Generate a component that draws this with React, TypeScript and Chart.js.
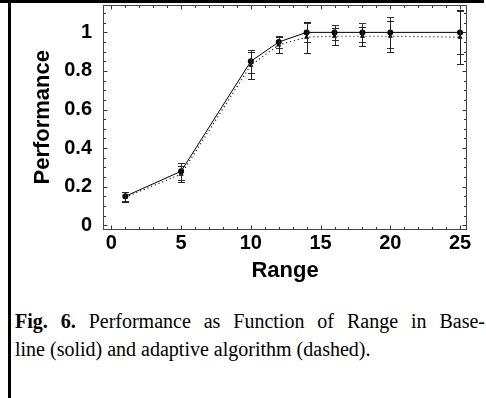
import React, { useEffect, useRef } from 'react';
import { Chart, registerables } from 'chart.js';

Chart.register(...registerables);

// ---- data ----
const rangeValues = [1, 5, 10, 12, 14, 16, 18, 20, 25];
const baselinePerf = [0.15, 0.28, 0.85, 0.95, 1.0, 1.0, 1.0, 1.0, 1.0];
const baselineErr = [0.025, 0.045, 0.06, 0.03, 0.05, 0.04, 0.05, 0.08, 0.11];
const adaptivePerf = [0.145, 0.265, 0.83, 0.935, 0.975, 0.98, 0.98, 0.98, 0.975];
const adaptiveErr = [0.025, 0.04, 0.07, 0.04, 0.08, 0.045, 0.05, 0.08, 0.14];

const xTickValues = [0, 5, 10, 15, 20, 25];
const xTickLabels = ['0', '5', '10', '15', '20', '25'];
const yTickValues = [0, 0.2, 0.4, 0.6, 0.8, 1];
const yTickLabels = ['0', '0.2', '0.4', '0.6', '0.8', '1'];
const xMinorTicks = [0,1,2,3,4,5,6,7,8,9,10,11,12,13,14,15,16,17,18,19,20,21,22,23,24,25];
const yMinorTicks = [0,0.05,0.1,0.15,0.2,0.25,0.3,0.35,0.4,0.45,0.5,0.55,0.6,0.65,0.7,0.75,0.8,0.85,0.9,0.95,1,1.05,1.1];

const SANS = '"Liberation Sans", Arial, sans-serif';
const SERIF = '"Liberation Serif", "Times New Roman", serif';

const framePlugin = {
  id: 'frameTicks',
  afterDatasetsDraw(chart: any) {
    const { ctx, chartArea: a, scales } = chart;
    const xs = scales.x;
    const ys = scales.y;
    const L = Math.round(a.left) + 0.5;
    const R = Math.round(a.right) - 0.5;
    const T = Math.round(a.top) + 0.5;
    const B = Math.round(a.bottom) - 0.5;
    ctx.save();
    ctx.strokeStyle = '#333';
    ctx.lineWidth = 1;
    ctx.beginPath();
    xMinorTicks.forEach((v) => {
      const px = Math.round(xs.getPixelForValue(v)) + 0.5;
      const len = v % 5 === 0 ? 4 : 2.5;
      ctx.moveTo(px, B);
      ctx.lineTo(px, B - len);
      ctx.moveTo(px, T);
      ctx.lineTo(px, T + len);
    });
    yMinorTicks.forEach((v, i) => {
      const py = Math.round(ys.getPixelForValue(v)) + 0.5;
      const len = i % 4 === 0 ? 4 : 2.5;
      ctx.moveTo(L, py);
      ctx.lineTo(L + len, py);
      ctx.moveTo(R, py);
      ctx.lineTo(R - len, py);
    });
    ctx.stroke();
    ctx.strokeStyle = '#444';
    ctx.strokeRect(L, T, R - L, B - T);
    ctx.restore();
  },
};

const errorBarPlugin = {
  id: 'errorBars',
  afterDatasetsDraw(chart: any) {
    const { ctx, scales } = chart;
    const xs = scales.x;
    const ys = scales.y;
    const sets = [
      { vals: baselinePerf, errs: baselineErr, color: '#333' },
      { vals: adaptivePerf, errs: adaptiveErr, color: '#222' },
    ];
    ctx.save();
    ctx.lineWidth = 1;
    sets.forEach((s) => {
      ctx.strokeStyle = s.color;
      ctx.beginPath();
      rangeValues.forEach((r, i) => {
        const px = Math.round(xs.getPixelForValue(r)) + 0.5;
        const top = Math.round(ys.getPixelForValue(s.vals[i] + s.errs[i])) + 0.5;
        const bot = Math.round(ys.getPixelForValue(s.vals[i] - s.errs[i])) + 0.5;
        ctx.moveTo(px, top);
        ctx.lineTo(px, bot);
        ctx.moveTo(px - 3.5, top);
        ctx.lineTo(px + 3.5, top);
        ctx.moveTo(px - 3.5, bot);
        ctx.lineTo(px + 3.5, bot);
      });
      ctx.stroke();
    });
    ctx.restore();
  },
};

export default function App() {
  const canvasRef = useRef<HTMLCanvasElement | null>(null);

  useEffect(() => {
    const canvas = canvasRef.current;
    if (!canvas) return;
    const chart = new Chart(canvas, {
      type: 'line',
      data: {
        datasets: [
          {
            label: 'Baseline',
            data: rangeValues.map((x, i) => ({ x, y: baselinePerf[i] })),
            borderColor: '#000',
            backgroundColor: '#000',
            borderWidth: 1,
            pointStyle: 'circle',
            pointRadius: 3,
            pointBorderWidth: 0,
            tension: 0,
          },
          {
            label: 'Adaptive',
            data: rangeValues.map((x, i) => ({ x, y: adaptivePerf[i] })),
            borderColor: '#000',
            backgroundColor: '#000',
            borderWidth: 1.2,
            borderDash: [1, 3],
            pointStyle: 'triangle',
            pointRadius: 3,
            pointBorderWidth: 0,
            tension: 0,
          },
        ],
      },
      options: {
        responsive: false,
        animation: false,
        events: [],
        layout: { padding: { left: 0, top: 5, right: 19, bottom: 0 } },
        plugins: {
          legend: { display: false },
          tooltip: { enabled: false },
          title: { display: false },
        },
        scales: {
          x: {
            type: 'linear',
            min: -0.6,
            max: 25.5,
            grid: { display: false, drawTicks: false },
            border: { display: false },
            afterBuildTicks: (scale: any) => {
              scale.ticks = xTickValues.map((v) => ({ value: v }));
            },
            afterFit: (scale: any) => {
              scale.height = 70.5;
              scale.paddingLeft = 0;
              scale.paddingRight = 0;
            },
            ticks: {
              padding: 2,
              color: '#000',
              maxRotation: 0,
              autoSkip: false,
              font: { family: SANS, size: 20, weight: 'bold' },
              callback: (_v: any, i: number) => xTickLabels[i],
            },
            title: {
              display: true,
              text: 'Range',
              color: '#000',
              font: { family: SANS, size: 22, weight: 'bold' },
              padding: { top: 0, bottom: 16 },
            },
          },
          y: {
            type: 'linear',
            min: -0.022,
            max: 1.142,
            grid: { display: false, drawTicks: false },
            border: { display: false },
            afterBuildTicks: (scale: any) => {
              scale.ticks = yTickValues.map((v) => ({ value: v }));
            },
            afterFit: (scale: any) => {
              scale.width = 103;
              scale.paddingTop = 0;
              scale.paddingBottom = 0;
            },
            ticks: {
              padding: 11,
              color: '#000',
              autoSkip: false,
              font: { family: SANS, size: 20, weight: 'bold' },
              callback: (_v: any, i: number) => yTickLabels[i],
            },
            title: {
              display: true,
              text: 'Performance',
              color: '#000',
              font: { family: SANS, size: 22, weight: 'bold' },
              padding: { top: 30, bottom: 0 },
            },
          },
        },
      },
      plugins: [errorBarPlugin, framePlugin],
    } as any);
    return () => chart.destroy();
  }, []);

  return (
    <div
      style={{
        position: 'absolute',
        left: 0,
        top: 0,
        width: 486,
        height: 398,
        overflow: 'hidden',
        background: '#fff',
      }}
    >
      <div style={{ position: 'absolute', left: 0, top: 0, width: 484, height: 3, background: '#000' }} />
      <div style={{ position: 'absolute', left: 8, top: 0, width: 3, height: 398, background: '#000' }} />
      <canvas
        ref={canvasRef}
        width={486}
        height={300}
        style={{ position: 'absolute', left: 0, top: 0, width: 486, height: 300 }}
      />
      <div
        style={{
          position: 'absolute',
          left: 15,
          top: 307,
          width: 470,
          fontFamily: SERIF,
          fontSize: 20,
          lineHeight: '28px',
          color: '#000',
        }}
      >
        <div style={{ textAlign: 'justify', textAlignLast: 'justify' } as any}>
          <b>Fig. 6.</b> Performance as Function of Range in Base-
        </div>
        <div>line (solid) and adaptive algorithm (dashed).</div>
      </div>
    </div>
  );
}
